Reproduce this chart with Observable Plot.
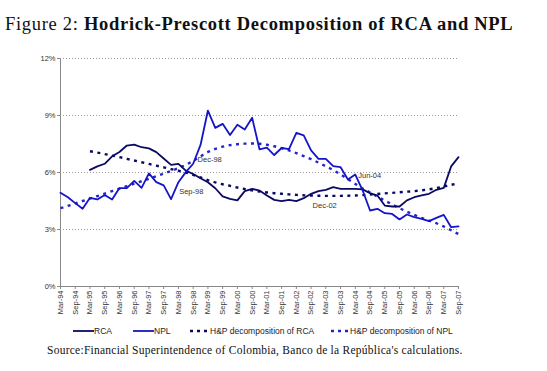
<!DOCTYPE html>
<html><head><meta charset="utf-8">
<script src="https://cdn.jsdelivr.net/npm/d3@7"></script>
<script src="https://cdn.jsdelivr.net/npm/@observablehq/plot@0.6"></script>
<style>
body{margin:0;background:#fff;}
#wrap{position:relative;width:547px;height:371px;overflow:hidden;background:#fff;}
#title{position:absolute;left:5px;top:14px;font-family:"Liberation Serif","DejaVu Serif",serif;font-size:18.5px;letter-spacing:0.7px;white-space:nowrap;color:#111;}
#title b{font-weight:bold;}
#chart{position:absolute;left:0;top:40px;}
.lg{position:absolute;top:325px;font-family:"Liberation Sans",Arial,sans-serif;font-size:8.5px;color:#222;white-space:nowrap;line-height:12px;}
#source{position:absolute;top:344px;left:47px;font-family:"Liberation Serif","DejaVu Serif",serif;font-size:11.5px;letter-spacing:0.25px;white-space:nowrap;color:#111;}
</style>
</head><body>
<div id="wrap">
  <div id="title">Figure 2: <b>Hodrick-Prescott Decomposition of RCA and NPL</b></div>
  <div id="chart"></div>
  <div id="legend"></div>
  <div id="source">Source:Financial Superintendence of Colombia, Banco de la República's calculations.</div>
</div>
<script>
const quarters = ["Mar-94","Jun-94","Sep-94","Dec-94","Mar-95","Jun-95","Sep-95","Dec-95",
"Mar-96","Jun-96","Sep-96","Dec-96","Mar-97","Jun-97","Sep-97","Dec-97",
"Mar-98","Jun-98","Sep-98","Dec-98","Mar-99","Jun-99","Sep-99","Dec-99",
"Mar-00","Jun-00","Sep-00","Dec-00","Mar-01","Jun-01","Sep-01","Dec-01",
"Mar-02","Jun-02","Sep-02","Dec-02","Mar-03","Jun-03","Sep-03","Dec-03",
"Mar-04","Jun-04","Sep-04","Dec-04","Mar-05","Jun-05","Sep-05","Dec-05",
"Mar-06","Jun-06","Sep-06","Dec-06","Mar-07","Jun-07","Sep-07"];

const tickLabels = ["Mar-94","Sep-94","Mar-95","Sep-95","Mar-96","Sep-96","Mar-97","Sep-97",
"Mar-98","Sep-98","Mar-99","Sep-99","Mar-00","Sep-00","Mar-01","Sep-01","Mar-02","Sep-02",
"Mar-03","Sep-03","Mar-04","Sep-04","Mar-05","Sep-05","Mar-06","Sep-06","Mar-07","Sep-07"];

const yTicks = [0, 3, 6, 9, 12];

const rca = [null,null,null,null,
6.14,6.32,6.46,6.85,7.08,7.42,7.47,7.33,7.27,7.07,6.74,6.40,
6.45,6.10,5.92,5.70,5.49,5.17,4.74,4.61,4.53,5.02,5.14,5.05,
4.79,4.56,4.49,4.56,4.49,4.65,4.88,5.02,5.09,5.23,5.14,5.14,
5.14,5.11,4.91,4.79,4.26,4.21,4.21,4.53,4.70,4.79,4.88,5.09,
5.19,6.32,6.81];

const npl = [4.93,4.70,4.39,4.09,4.67,4.58,4.82,4.58,5.18,5.18,5.56,5.19,
5.95,5.49,5.32,4.60,5.49,6.02,6.46,7.45,9.26,8.35,8.56,7.97,
8.51,8.26,8.88,7.22,7.31,6.92,7.29,7.23,8.09,7.95,7.16,6.72,
6.72,6.33,6.28,5.63,5.89,5.05,4.00,4.09,3.86,3.82,3.53,3.79,
3.65,3.56,3.44,3.61,3.77,3.12,3.16];

const rcaHP = [null,null,null,null,
7.12,7.05,6.97,6.89,6.81,6.72,6.63,6.54,6.45,6.36,6.27,6.18,
6.09,6.00,5.88,5.74,5.60,5.48,5.38,5.30,5.21,5.13,5.06,5.00,
4.95,4.91,4.88,4.85,4.82,4.80,4.79,4.78,4.77,4.77,4.77,4.78,
4.79,4.81,4.84,4.87,4.90,4.93,4.96,4.99,5.02,5.06,5.11,5.18,
5.26,5.35,5.44];

const nplHP = [4.12,4.24,4.37,4.50,4.63,4.76,4.89,5.02,5.15,5.28,5.41,5.54,
5.67,5.80,5.94,6.08,6.23,6.40,6.60,6.85,7.08,7.24,7.36,7.44,
7.49,7.52,7.53,7.51,7.46,7.38,7.28,7.16,7.02,6.86,6.70,6.52,
6.33,6.13,5.90,5.65,5.40,5.16,4.95,4.73,4.52,4.32,4.12,3.94,
3.77,3.61,3.47,3.33,3.16,2.96,2.76];

// annotations: label, quarter it sits at (fractional index), value level
const annoText = ["Dec-98","Sep-98","Dec-02","Jun-04"];
const annoIdx  = [18.6, 16.1, 34.2, 40.4];
const annoY    = [6.68, 5.0, 4.26, 5.84];

const seriesNames = ["RCA","NPL","H&P decomposition of RCA","H&P decomposition of NPL"];
const colors = {rca:"#0a0a64", npl:"#1515c8", rcaHP:"#0a0a64", nplHP:"#2424cc"};

const rows = quarters.map((q, i) => ({i, q, rca: rca[i], npl: npl[i], rcaHP: rcaHP[i], nplHP: nplHP[i]}));
const tickIdx = tickLabels.map(l => quarters.indexOf(l));
const annos = annoText.map((t, k) => ({t, i: annoIdx[k], v: annoY[k]}));

const chart = Plot.plot({
  width: 547, height: 275,
  marginTop: 18, marginBottom: 29, marginLeft: 60, marginRight: 89,
  style: {fontFamily: "'Liberation Sans', Arial, sans-serif", fontSize: "7.5px", color: "#333", background: "transparent", overflow: "visible"},
  x: {type: "linear", domain: [0, 54]},
  y: {domain: [0, 12]},
  marks: [
    Plot.gridY(yTicks.filter(d => d > 0), {stroke: "#9a9a9a", strokeOpacity: 1, strokeDasharray: "1,2"}),
    Plot.axisY({ticks: yTicks, tickFormat: d => d + "%", tickSize: 3, tickPadding: 2, stroke: "#888", label: null}),
    Plot.axisX({ticks: tickIdx, tickFormat: d => quarters[d], tickRotate: -90, tickSize: 3, tickPadding: 1, stroke: "#888", label: null}),
    Plot.ruleX([0], {stroke: "#888"}),
    Plot.ruleY([0], {stroke: "#888"}),
    Plot.line(rows, {x: "i", y: "rcaHP", stroke: colors.rcaHP, strokeWidth: 2.4, strokeDasharray: "3,4.5", strokeLinecap: "butt"}),
    Plot.line(rows, {x: "i", y: "nplHP", stroke: colors.nplHP, strokeWidth: 2.4, strokeDasharray: "3,4.5", strokeLinecap: "butt"}),
    Plot.line(rows, {x: "i", y: "rca", stroke: colors.rca, strokeWidth: 1.8}),
    Plot.line(rows, {x: "i", y: "npl", stroke: colors.npl, strokeWidth: 1.8}),
    Plot.text(annos, {x: "i", y: "v", text: "t", textAnchor: "start", fill: "#333", fontSize: 7.5})
  ]
});
document.getElementById("chart").appendChild(chart);

// legend
const lg = document.getElementById("legend");
const legendPos = [[73, 94], [133, 154], [190, 210], [331, 350]];
const keys = ["rca", "npl", "rcaHP", "nplHP"];
seriesNames.forEach((name, k) => {
  const [sx, tx] = legendPos[k];
  const dashed = k >= 2;
  const sw = document.createElementNS("http://www.w3.org/2000/svg", "svg");
  sw.setAttribute("width", tx - sx); sw.setAttribute("height", 6);
  sw.style.position = "absolute"; sw.style.left = sx + "px"; sw.style.top = "328px";
  const ln = document.createElementNS("http://www.w3.org/2000/svg", "line");
  ln.setAttribute("x1", 0); ln.setAttribute("x2", tx - sx); ln.setAttribute("y1", 3); ln.setAttribute("y2", 3);
  ln.setAttribute("stroke", colors[keys[k]]);
  ln.setAttribute("stroke-width", dashed ? 2.4 : 1.8);
  if (dashed) ln.setAttribute("stroke-dasharray", "3,4");
  sw.appendChild(ln);
  lg.appendChild(sw);
  const sp = document.createElement("span");
  sp.className = "lg"; sp.style.left = tx + "px"; sp.textContent = name;
  lg.appendChild(sp);
});
</script>
</body></html>
